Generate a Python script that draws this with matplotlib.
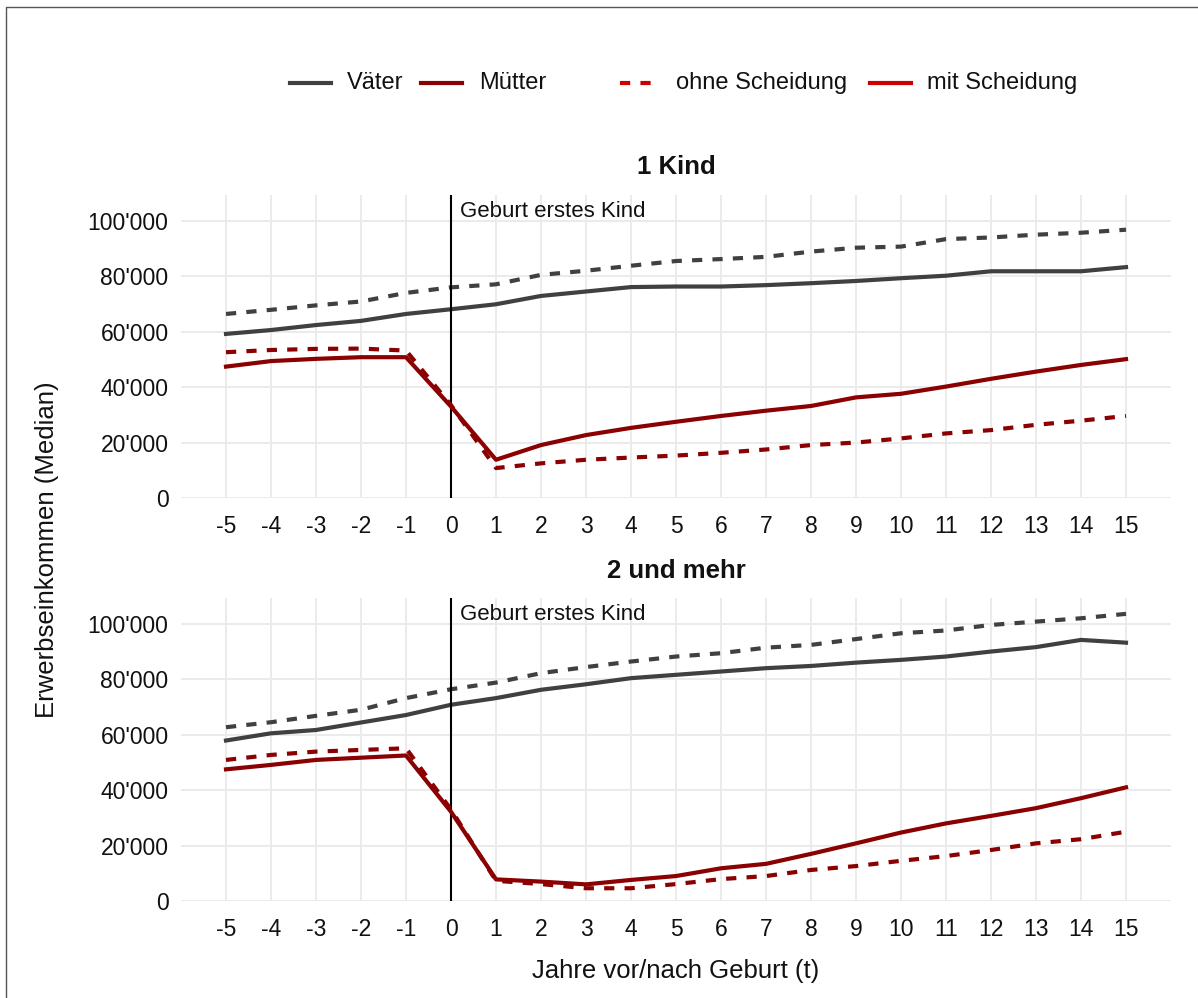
import matplotlib
matplotlib.use("Agg")
import matplotlib.pyplot as plt
from matplotlib.lines import Line2D
from matplotlib.ticker import FuncFormatter, MultipleLocator

plt.rcParams['font.family'] = ['Liberation Sans', 'DejaVu Sans']

# ---------------- data ----------------
years = list(range(-5, 16))

panel_titles = ["1 Kind", "2 und mehr"]

# 1 Kind
vater_ohne_1 = [66400, 67900, 69500, 70900, 74000, 76000, 77100, 80500, 82000, 83800, 85500,
                86200, 87000, 88900, 90300, 90700, 93400, 94000, 95000, 95700, 96800]
vater_mit_1 = [59200, 60600, 62400, 63900, 66400, 68100, 69900, 72900, 74500, 76100, 76300,
               76300, 76800, 77500, 78300, 79300, 80200, 81800, 81800, 81800, 83300]
mutter_ohne_1 = [52600, 53400, 53800, 53900, 53200, 33500, 10800, 12500, 13800, 14600, 15300,
                 16300, 17500, 19100, 20000, 21500, 23300, 24500, 26400, 27900, 29600]
mutter_mit_1 = [47400, 49400, 50200, 50800, 50800, 33000, 13800, 19100, 22700, 25300, 27500,
                29600, 31500, 33200, 36300, 37600, 40200, 43000, 45600, 48000, 50100]

# 2 und mehr
vater_ohne_2 = [62700, 64500, 66800, 69000, 73200, 76400, 78800, 82200, 84400, 86400, 88200,
                89400, 91400, 92400, 94500, 96600, 97600, 99600, 100800, 102000, 103600]
vater_mit_2 = [57900, 60500, 61700, 64400, 67100, 70800, 73200, 76200, 78200, 80400, 81600,
               82800, 84000, 84800, 86000, 87000, 88200, 90000, 91600, 94200, 93200]
mutter_ohne_2 = [50900, 52700, 53900, 54500, 55100, 33000, 7300, 6100, 4600, 4600, 6100,
                 7900, 9000, 11200, 12600, 14500, 16200, 18400, 20800, 22300, 25000]
mutter_mit_2 = [47500, 49100, 50900, 51700, 52500, 32200, 7800, 7000, 6000, 7600, 9000,
                11800, 13400, 17000, 20800, 24700, 28000, 30700, 33500, 37100, 41000]

y_ticks = [0, 20000, 40000, 60000, 80000, 100000]
annotation = "Geburt erstes Kind"
legend_groups = ["Väter", "Mütter"]
legend_types = ["ohne Scheidung", "mit Scheidung"]

panels = [
    (vater_ohne_1, vater_mit_1, mutter_ohne_1, mutter_mit_1),
    (vater_ohne_2, vater_mit_2, mutter_ohne_2, mutter_mit_2),
]

# ---------------- style ----------------
W, H = 1198, 998
C_VATER = '#404040'
C_MUTTER = '#8B0000'
C_LEG_RED = '#CC0000'
GRID = '#EBEBEB'
LW = 3.0
DASH = (0, (2.45, 2.45))
FS_TICK = 16.5
FS_TITLE = 18.5
FS_LAB = 18.5
FS_LEG = 17
FS_ANN = 16
TXT = '#111111'

fig = plt.figure(figsize=(W / 100, H / 100), dpi=100)


def fx(x):
    return x / W


def fy(y):
    return 1 - y / H


# panel pixel boxes: (left, right, top, bottom)
boxes = [(181, 1171, 194.5, 498), (181, 1171, 597.5, 901)]
YMAX = 109500

for (vo, vm, mo, mm), title, (l, r, t, b) in zip(panels, panel_titles, boxes):
    ax = fig.add_axes([fx(l), fy(b), fx(r - l), (b - t) / H])
    ax.set_xlim(-6, 16)
    ax.set_ylim(0, YMAX)
    for s in ax.spines.values():
        s.set_visible(False)
    ax.xaxis.set_major_locator(MultipleLocator(1))
    ax.set_yticks(y_ticks)
    ax.yaxis.set_major_formatter(FuncFormatter(lambda v, p: f"{int(v):,}".replace(",", "'")))
    ax.set_xticks(years)
    ax.set_xticklabels([str(v) for v in years])
    ax.tick_params(axis='both', length=0, labelsize=FS_TICK, colors=TXT)
    ax.tick_params(axis='x', pad=12)
    ax.tick_params(axis='y', pad=9)
    ax.grid(True, color=GRID, linewidth=1.4)
    ax.set_axisbelow(True)

    ax.axvline(0, color='black', linewidth=1.5, zorder=3)
    ax.text(0.2, 101400, annotation, fontsize=FS_ANN, ha='left', va='baseline', color=TXT)

    ax.plot(years, vo, color=C_VATER, linewidth=LW, linestyle=DASH, zorder=2)
    ax.plot(years, vm, color=C_VATER, linewidth=LW, linestyle='-', zorder=2)
    ax.plot(years, mo, color=C_MUTTER, linewidth=LW, linestyle=DASH, zorder=4)
    ax.plot(years, mm, color=C_MUTTER, linewidth=LW, linestyle='-', zorder=4)

    fig.text(fx((l + r) / 2), fy(t - 27), title, fontsize=FS_TITLE, fontweight='bold',
             ha='center', va='center', color=TXT)

# axis labels
fig.text(fx(676), fy(971), "Jahre vor/nach Geburt (t)", fontsize=FS_LAB, ha='center', va='center',
         color=TXT)
fig.text(fx(47), fy(550), "Erwerbseinkommen (Median)", fontsize=FS_LAB, ha='center', va='center',
         rotation=90, color=TXT)

# legend (manual placement)
LEG_Y = 83
legend_items = [
    (290, 331, 347, legend_groups[0], C_VATER, '-'),
    (421, 462, 479, legend_groups[1], C_MUTTER, '-'),
    (620, 656, 676, legend_types[0], C_LEG_RED, DASH),
    (870, 911, 927, legend_types[1], C_LEG_RED, '-'),
]
for x0, x1, xt, lab, col, ls in legend_items:
    fig.add_artist(Line2D([fx(x0), fx(x1)], [fy(LEG_Y), fy(LEG_Y)], transform=fig.transFigure,
                          color=col, linewidth=LW, linestyle=ls))
    fig.text(fx(xt), fy(LEG_Y), lab, fontsize=FS_LEG, ha='left', va='center', color=TXT)

# outer border (left and top visible)
fig.add_artist(Line2D([fx(5.5), fx(5.5), fx(W + 10)], [fy(H + 10), fy(6.5), fy(6.5)],
                      transform=fig.transFigure, color='#555555', linewidth=1.0))

fig.savefig("out.png", dpi=100)
